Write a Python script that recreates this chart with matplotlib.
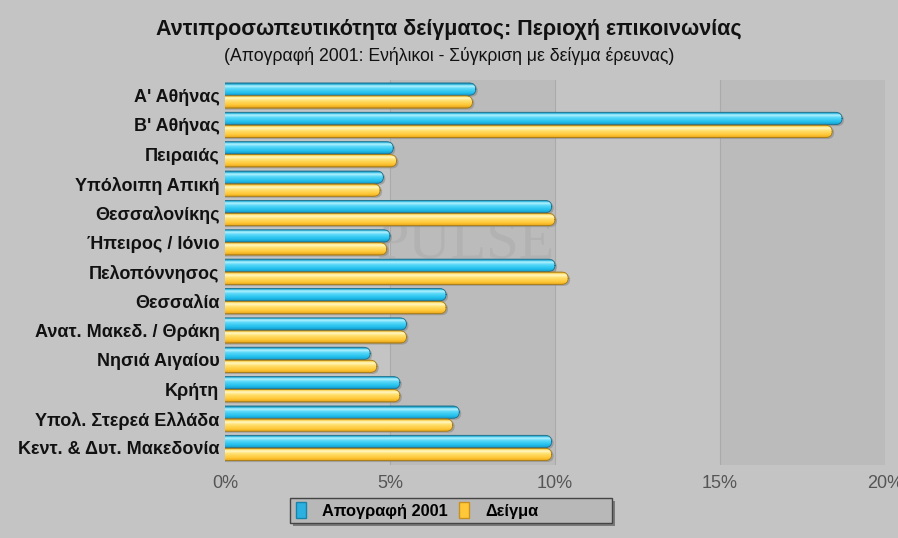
import matplotlib
matplotlib.use("Agg")
import matplotlib.pyplot as plt
import numpy as np
from matplotlib.patches import FancyBboxPatch, Rectangle
from matplotlib.colors import LinearSegmentedColormap
from matplotlib.ticker import FuncFormatter

plt.rcParams['font.family'] = ['Liberation Sans', 'DejaVu Sans']

categories = ["Α' Αθήνας", "Β' Αθήνας", "Πειραιάς", "Υπόλοιπη Απική", "Θεσσαλονίκης",
              "Ήπειρος / Ιόνιο", "Πελοπόννησος", "Θεσσαλία", "Ανατ. Μακεδ. / Θράκη",
              "Νησιά Αιγαίου", "Κρήτη", "Υπολ. Στερεά Ελλάδα", "Κεντ. & Δυτ. Μακεδονία"]
census = [7.6, 18.7, 5.1, 4.8, 9.9, 5.0, 10.0, 6.7, 5.5, 4.4, 5.3, 7.1, 9.9]
sample = [7.5, 18.4, 5.2, 4.7, 10.0, 4.9, 10.4, 6.7, 5.5, 4.6, 5.3, 6.9, 9.9]
series_names = ["Απογραφή 2001", "Δείγμα"]
xticks = [0, 5, 10, 15, 20]

BG = "#c4c4c4"
BAND = "#bbbbbb"
W, H = 898, 538

fig = plt.figure(figsize=(8.98, 5.38), dpi=100, facecolor=BG)
ax = fig.add_axes([225/W, 73/H, 660/W, 385/H])
ax.set_facecolor(BG)

# alternating bands
for i in range(len(xticks) - 1):
    if i % 2 == 1:
        ax.axvspan(xticks[i], xticks[i+1], color=BAND, zorder=0, lw=0)
for xt in xticks[1:-1]:
    ax.axvline(xt, color="#aaaaaa", lw=0.8, zorder=0.5)

ax.text(7.3, 5.05, "PULSE", fontsize=42, family="Liberation Serif",
        color="#b2b2b2", ha="center", va="center", zorder=0.6)

y = np.arange(len(categories))
h = 0.44
blue_cmap = LinearSegmentedColormap.from_list("b", [
    (0.0, "#1a7fa0"), (0.1, "#2bb7e0"), (0.22, "#b8f4ff"), (0.42, "#5ad8f8"),
    (0.75, "#22c0ec"), (0.92, "#1aa4d4"), (1.0, "#1783a8")])
yel_cmap = LinearSegmentedColormap.from_list("y", [
    (0.0, "#c89020"), (0.1, "#ffd858"), (0.22, "#fff8c8"), (0.42, "#ffe070"),
    (0.75, "#ffc838"), (0.92, "#f0b020"), (1.0, "#b88418")])

bars_b = ax.barh(y - h/2, census, height=h, color="none", zorder=1)
bars_y = ax.barh(y + h/2, sample, height=h, color="none", zorder=1)

grad = np.linspace(0, 1, 64).reshape(-1, 1)
rx = 0.2
for bars, cmap in ((bars_b, blue_cmap), (bars_y, yel_cmap)):
    for b in bars:
        x0, w = b.get_x(), b.get_width()
        yb, hh = b.get_y(), b.get_height()
        pad = 0.02
        sh = FancyBboxPatch((x0 - 0.5, yb + 0.06), w + 0.5 + 0.06, hh - pad,
                            boxstyle=f"round,pad=0,rounding_size={rx}",
                            mutation_aspect=(hh/2)/rx, fc="#8a8a8a", ec="none",
                            alpha=0.6, zorder=1.5)
        ax.add_patch(sh)
        p = FancyBboxPatch((x0 - 0.5, yb + pad/2), w + 0.5, hh - pad,
                           boxstyle=f"round,pad=0,rounding_size={rx}",
                           mutation_aspect=(hh/2)/rx, fc="none",
                           ec="#1c6f8c" if cmap is blue_cmap else "#a87a10",
                           lw=0.6, zorder=2.5)
        ax.add_patch(p)
        im = ax.imshow(grad, cmap=cmap, extent=[x0 - 0.5, x0 + w, yb + hh, yb],
                       aspect="auto", zorder=2, interpolation="bilinear")
        im.set_clip_path(p)

ax.set_xlim(0, 20)
ax.set_ylim(len(categories) - 1 + 0.58, -0.53)
ax.set_yticks(y)
ax.set_yticklabels(categories, fontsize=13, fontweight="bold", color="#111111")
ax.set_xticks(xticks)
ax.xaxis.set_major_formatter(FuncFormatter(lambda v, p: f"{v:.0f}%"))
ax.tick_params(axis="x", labelsize=13, colors="#555555", length=0, pad=7)
ax.tick_params(axis="y", length=0, pad=4)
for s in ax.spines.values():
    s.set_visible(False)

fig.text(0.5, 1 - 30/H, "Αντιπροσωπευτικότητα δείγματος: Περιοχή επικοινωνίας",
         ha="center", va="center", fontsize=15.5, fontweight="bold", color="#111111")
fig.text(0.5, 1 - 56/H, "(Απογραφή 2001: Ενήλικοι - Σύγκριση με δείγμα έρευνας)",
         ha="center", va="center", fontsize=12.7, color="#111111")

# legend box (frame drawn in figure pixels)
bx0, bx1, by0, by1 = 290, 612, 498, 523
fig.patches.append(Rectangle((bx0/W + 3/W, 1 - (by1 + 3)/H), (bx1 - bx0)/W, (by1 - by0)/H,
                             transform=fig.transFigure, fc="#7a7a7a", ec="none", zorder=0))
fig.patches.append(Rectangle((bx0/W, 1 - by1/H), (bx1 - bx0)/W, (by1 - by0)/H,
                             transform=fig.transFigure, fc="#b8b8b8", ec="#444444",
                             lw=1.0, zorder=0.1))

handles = [Rectangle((0, 0), 1, 1, fc="#2bb0e0", ec="#1783a8"),
           Rectangle((0, 0), 1, 1, fc="#ffc838", ec="#c89020")]
leg = fig.legend(handles, series_names, loc="center left",
                 bbox_to_anchor=(296/W, 1 - 510.5/H),
                 ncol=2, frameon=False,
                 prop={"weight": "bold", "size": 11.8}, handlelength=0.6,
                 handleheight=1.1, columnspacing=0.7, handletextpad=1.0,
                 borderpad=0, borderaxespad=0)

fig.savefig("out.png", dpi=100, facecolor=BG)
